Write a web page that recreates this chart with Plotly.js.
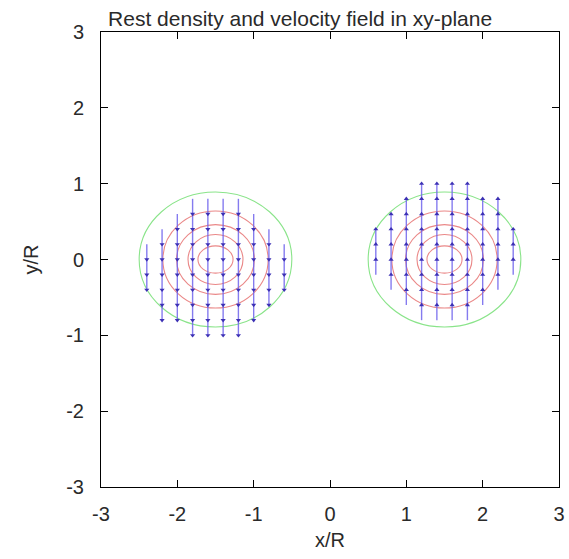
<!DOCTYPE html>
<html>
<head>
<meta charset="utf-8">
<script src="https://cdn.plot.ly/plotly-3.0.1.min.js"></script>
<style>
  html, body { margin: 0; padding: 0; background: #fff; }
  #chart { width: 569px; height: 559px; }
</style>
</head>
<body>
<div id="chart"></div>
<script>
// Velocity field sampled on a regular grid (spacing in x/R, y/R)
const gridStep = 0.2;

// Left star: columns of arrows, highest and lowest arrow tail in each column, and vertical velocity
const leftCols   = [-2.4, -2.2, -2.0, -1.8, -1.6, -1.4, -1.2, -1.0, -0.8, -0.6];
const leftTop    = [ 0.2,  0.4,  0.6,  0.8,  0.8,  0.8,  0.8,  0.6,  0.4,  0.2];
const leftBottom = [-0.2, -0.6, -0.6, -0.8, -0.8, -0.8, -0.8, -0.6, -0.4, -0.2];
const leftVy = -0.2;

// Right star
const rightCols   = [0.6, 0.8, 1.0, 1.2, 1.4, 1.6, 1.8, 2.0, 2.2, 2.4];
const rightTop    = [0.2, 0.4, 0.6, 0.8, 0.8, 0.8, 0.8, 0.6, 0.6, 0.2];
const rightBottom = [-0.2, -0.4, -0.6, -0.8, -0.8, -0.8, -0.8, -0.6, -0.4, -0.2];
const rightVy = 0.2;

// Rest-density contours: star centres and semi-axes of each level (outermost first)
const starCenters = [-1.5, 1.5];
const contourRx = [1.0, 0.69, 0.51, 0.36, 0.23];
const contourRy = [0.89, 0.64, 0.46, 0.33, 0.18];

const tickVals = [-3, -2, -1, 0, 1, 2, 3];
const tickText = ['-3', '-2', '-1', '0', '1', '2', '3'];

// Build arrow shafts (segments separated by nulls) and head positions
function arrows(cols, tops, bottoms, vy) {
  const sx = [], sy = [], hx = [], hy = [];
  cols.forEach((x, i) => {
    const n = Math.round((tops[i] - bottoms[i]) / gridStep);
    for (let k = 0; k <= n; k++) {
      const y = +(tops[i] - k * gridStep).toFixed(3);
      sx.push(x, x, null);
      sy.push(y, y + vy, null);
      hx.push(x);
      hy.push(y + vy);
    }
  });
  return { sx, sy, hx, hy };
}

const L = arrows(leftCols, leftTop, leftBottom, leftVy);
const R = arrows(rightCols, rightTop, rightBottom, rightVy);

const shaftStyle = { color: 'rgba(112,100,236,0.85)', width: 1.4 };
const headColor = 'rgb(60,48,180)';

const traces = [
  { x: L.sx, y: L.sy, mode: 'lines', line: shaftStyle, hoverinfo: 'skip', showlegend: false },
  { x: R.sx, y: R.sy, mode: 'lines', line: shaftStyle, hoverinfo: 'skip', showlegend: false },
  { x: L.hx, y: L.hy, mode: 'markers', marker: { symbol: 'triangle-down', size: 4.5, color: headColor }, showlegend: false },
  { x: R.hx, y: R.hy, mode: 'markers', marker: { symbol: 'triangle-up', size: 4.5, color: headColor }, showlegend: false }
];

// Density contour lines as ellipse shapes in data coordinates
const shapes = [];
starCenters.forEach(cx => {
  contourRx.forEach((rx, i) => {
    shapes.push({
      type: 'circle', xref: 'x', yref: 'y', layer: 'below',
      x0: cx - rx, x1: cx + rx, y0: -contourRy[i], y1: contourRy[i],
      line: { color: i === 0 ? '#8ae48a' : '#ea8888', width: 1.1 }
    });
  });
});

const axisBase = {
  range: [-3, 3], tickvals: tickVals, ticktext: tickText, ticks: 'inside', ticklen: 7, tickwidth: 1,
  tickcolor: '#000', showline: true, linecolor: '#000', linewidth: 1, mirror: 'allticks',
  showgrid: false, zeroline: false, fixedrange: true
};

const layout = {
  width: 569, height: 559,
  margin: { l: 101, r: 10, t: 32, b: 72 },
  paper_bgcolor: '#fff', plot_bgcolor: '#fff',
  font: { family: 'Liberation Sans, Arial, sans-serif', size: 20, color: '#2a2a2a' },
  title: {
    text: 'Rest density and velocity field in xy-plane',
    xref: 'container', x: 0.19, xanchor: 'left',
    yref: 'container', y: 0.966, yanchor: 'middle',
    font: { size: 21, color: '#2a2a2a' }
  },
  xaxis: Object.assign({}, axisBase, {
    ticklabelstandoff: 9,
    title: { text: 'x/R', standoff: 8, font: { size: 20 } }
  }),
  yaxis: Object.assign({}, axisBase, {
    ticklabelstandoff: 12,
    title: { text: 'y/R', standoff: 22, font: { size: 20 } }
  }),
  shapes: shapes,
  showlegend: false
};

Plotly.newPlot('chart', traces, layout, { staticPlot: true, displayModeBar: false });
</script>
</body>
</html>
